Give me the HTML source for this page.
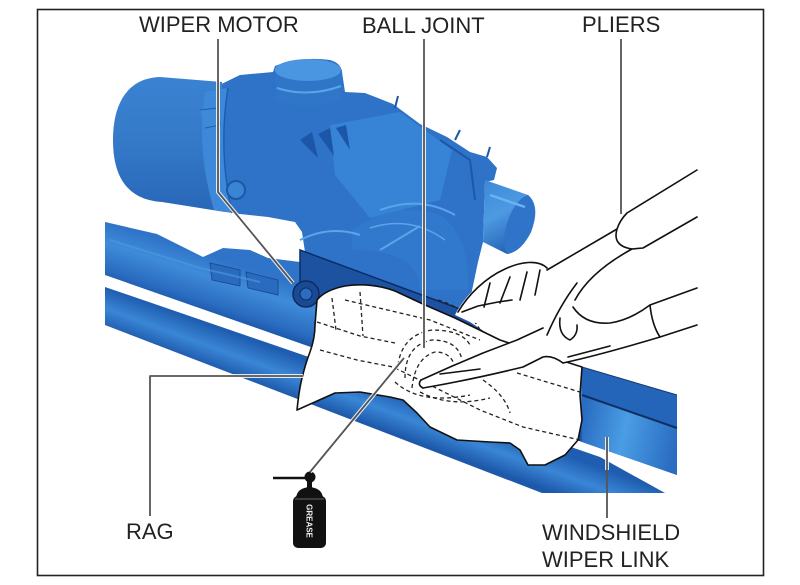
<!DOCTYPE html>
<html><head><meta charset="utf-8"><style>
html,body{margin:0;padding:0;background:#fff;}
svg{display:block;}
text{font-family:"Liberation Sans",Arial,sans-serif;}
</style></head><body>
<svg width="800" height="585" viewBox="0 0 800 585" xmlns="http://www.w3.org/2000/svg">
<defs>
<linearGradient id="gUp" gradientUnits="userSpaceOnUse" x1="0" y1="0" x2="0" y2="56" gradientTransform="translate(105,222) rotate(18)">
<stop offset="0" stop-color="#2f74c8"/><stop offset="0.35" stop-color="#3f8bd9"/><stop offset="0.8" stop-color="#2a6cc0"/><stop offset="1" stop-color="#1c56a8"/>
</linearGradient>
<linearGradient id="gLo" gradientUnits="userSpaceOnUse" x1="0" y1="0" x2="0" y2="40" gradientTransform="translate(105,287) rotate(20)">
<stop offset="0" stop-color="#1f5db0"/><stop offset="0.5" stop-color="#3a86d6"/><stop offset="1" stop-color="#1d58aa"/>
</linearGradient>
<linearGradient id="gMot" x1="0" y1="0" x2="0" y2="1">
<stop offset="0" stop-color="#3a83d2"/><stop offset="0.5" stop-color="#3479c8"/><stop offset="1" stop-color="#2866b8"/>
</linearGradient>
<linearGradient id="gBlk" gradientUnits="userSpaceOnUse" x1="582" y1="420" x2="677" y2="440">
<stop offset="0" stop-color="#2a6cc2"/><stop offset="0.45" stop-color="#4a9de4"/><stop offset="1" stop-color="#2a6cc2"/>
</linearGradient>
<linearGradient id="gCon" x1="0" y1="0" x2="0.4" y2="1">
<stop offset="0" stop-color="#3c88d8"/><stop offset="0.5" stop-color="#4d9ae2"/><stop offset="1" stop-color="#2463b6"/>
</linearGradient>
</defs>

<!-- frame -->
<rect x="37.5" y="9.5" width="726" height="566" fill="#fff" stroke="#222" stroke-width="1.6"/>

<!-- lower bar -->
<path d="M105,287 L600,457 L665,493 L542,493 L105,325 Z" fill="url(#gLo)"/>
<!-- upper bar -->
<path d="M105,222 L157,234 L203,257 L223,248 L250,250 L268,258 L300,262 L582,367 L677,395 L677,475 L582,442 L105,275 Z" fill="url(#gUp)"/>
<!-- right block detail -->
<path d="M582,395 L677,428 L677,475 L582,442 Z" fill="url(#gBlk)"/>
<path d="M582,367 L677,395 L677,428 L582,395 Z" fill="#2465b9"/>
<path d="M582,395 L677,428" stroke="#0f2f60" stroke-width="2"/>
<path d="M582,367 L677,395" stroke="#123a75" stroke-width="1"/>
<!-- bracket details -->
<path d="M210,263 L240,270 L240,286 L212,280 Z" fill="#2a6bbf" stroke="#1a4f99" stroke-width="1"/>
<path d="M246,272 L278,280 L278,295 L248,288 Z" fill="#2a6bbf" stroke="#1a4f99" stroke-width="1"/>
<path d="M110,240 L200,268 L260,282" fill="none" stroke="#4d9be0" stroke-width="2" opacity="0.6"/>

<!-- housing -->
<path d="M205,92 L240,75 L273,72 L275,66 Q300,56 330,60 Q341,63 342,72 L345,92 L365,93 L393,104 L420,124 L447,137 L470,152 L487,157 L497,168 L494,180 L485,182 L483,242 L478,262 L470,300 L468,312 L305,252 L302,232 L295,222 L268,217 L240,214 L218,210 Z" fill="#2e73c7"/>
<!-- housing facets -->
<path d="M330,125 L400,112 L452,150 L440,200 L370,218 L335,175 Z" fill="#3784d6"/>
<path d="M352,230 Q395,200 440,215 Q470,235 468,290 L420,290 Q420,250 352,250 Z" fill="#3179cc"/>
<path d="M300,140 L312,132 L318,158 Z M318,134 L330,128 L334,156 Z M336,128 L346,125 L350,150 Z" fill="#1c56a8"/>
<path d="M380,210 Q420,195 455,215" fill="none" stroke="#5aa5ea" stroke-width="2"/>
<path d="M370,228 Q410,215 445,240" fill="none" stroke="#5aa5ea" stroke-width="1.5"/>
<path d="M380,250 L420,226" fill="none" stroke="#5aa5ea" stroke-width="2"/>
<path d="M440,140 L470,160 L475,200" fill="none" stroke="#1d58a8" stroke-width="2"/>
<path d="M395,108 L398,96 M455,140 L460,130 M487,157 L490,147" stroke="#1d58a8" stroke-width="2"/>
<path d="M300,240 Q330,225 360,235" fill="none" stroke="#5aa5ea" stroke-width="2"/>
<!-- cap -->
<path d="M275,68 L276,100 Q305,112 340,100 L342,70 Z" fill="#2f76c9"/>
<ellipse cx="308" cy="70" rx="33" ry="11" fill="#4b96e0"/>
<path d="M277,88 Q308,98 341,86" fill="none" stroke="#5aa5ea" stroke-width="2"/>
<!-- connector -->
<path d="M485,180 L528,195 Q541,206 531,232 Q521,252 507,254 L483,242 Z" fill="url(#gCon)"/>
<path d="M528,195 Q540,205 531,232 Q521,252 507,254 Q500,240 510,215 Q518,198 528,195 Z" fill="#2f74c8"/>
<path d="M490,195 L525,207" stroke="#6cb2ee" stroke-width="2.5"/>

<!-- motor cylinder -->
<path d="M222,82 L160,77 C130,78 113,100 113,140 C113,180 130,200 162,202 L225,212 Z" fill="url(#gMot)"/>
<path d="M205,92 Q196,150 214,210 L232,213 Q218,150 228,88 Z" fill="#3d88d8"/>
<path d="M228,88 Q218,150 232,213" fill="none" stroke="#1f5cae" stroke-width="1.5"/>
<circle cx="236" cy="190" r="9" fill="#3a84d4" stroke="#1d58a8" stroke-width="2"/>
<path d="M200,110 L218,108 L220,125 L205,128" fill="#3e8ad8" stroke="#1f5cae" stroke-width="1"/>

<!-- plate -->
<path d="M300,250 L468,312 L500,326 L498,338 L470,328 L420,306 L390,292 L365,285 L340,288 L318,300 L300,290 Z" fill="#1d52a0" stroke="#0c2c62" stroke-width="1.5"/>
<path d="M484,320 L500,326 L498,338 L482,332 Z" fill="#3f8ee0" stroke="#0c2c62" stroke-width="1"/>
<circle cx="306" cy="294" r="13" fill="#1a4a94" stroke="#0c2c62" stroke-width="1.5"/>
<circle cx="306" cy="294" r="6" fill="#2c6cc0" stroke="#0c2c62" stroke-width="1"/>

<!-- white cover between hand and block -->
<path d="M470,322 L540,322 L605,330 L582,367 L500,342 Z" fill="#fff"/>

<!-- rag -->
<path d="M317,300 Q325,290 345,286 Q370,282 395,291 L425,305 L455,318 L500,340 L560,360 L582,367 L580,395 L582,420 L578,440 L565,455 L545,465 L528,465 L520,450 L510,443 L490,442 L457,440 L430,427 L417,413 L403,400 L390,397 L360,392 L335,393 L297,410 Q299,390 302,378 Q306,362 310,352 Q315,338 315,325 Z" fill="#fff" stroke="#111" stroke-width="1.6" stroke-linejoin="round"/>
<!-- dashed hidden lines -->
<g fill="none" stroke="#222" stroke-width="1.3" stroke-dasharray="4 3">
<path d="M317,322 L360,336 L395,343"/>
<path d="M320,350 L357,360 L393,367 L440,390 L480,410 L523,427 L580,440"/>
<path d="M345,300 L430,320 L480,340"/>
<path d="M517,373 L580,392"/>
<path d="M332,298 L336,330 M360,292 L363,336"/>
<path d="M398,365 Q402,335 432,330 Q462,330 470,345"/>
<path d="M405,378 Q405,345 432,340 Q458,340 462,360"/>
<path d="M412,388 Q415,358 435,352 Q452,352 455,368"/>
<path d="M395,382 Q420,405 470,395"/>
<path d="M420,392 Q450,408 490,398"/>
<path d="M483,380 Q505,395 510,413"/>
<path d="M438,300 Q470,310 480,330"/>
</g>

<!-- hand -->
<path d="M455,315 C465,295 485,277 505,268 C520,262 538,259 547,268 L575,300 C580,315 595,325 612,323 L650,305 L660,337 L563,363 L543,357 L523,367 L473,377 L423,387 Q417,384 421,378 L450,366 L483,353 L517,340 L543,328 L520,330 L490,325 L470,322 Z" fill="#fff"/>
<g fill="none" stroke="#111" stroke-width="1.6" stroke-linecap="round" stroke-linejoin="round">
<path d="M458,312 C468,295 485,278 505,269 C520,262 538,259 547,268"/>
<path d="M421,380 L450,367 L483,353 L517,340 L543,328"/>
<path d="M423,388 Q470,380 523,367 L543,357 Q552,355 563,363"/>
<path d="M421,380 Q417,385 423,388"/>
<path d="M577,283 Q560,305 547,335"/>
<path d="M560,318 Q558,335 570,340 Q578,335 577,325"/>
<path d="M490,283 L484,307 M510,277 L500,303 M527,272 L520,300 M540,270 L535,295"/>
<path d="M462,312 L478,306 L498,302 L512,300"/>
<path d="M440,374 L480,369"/>
<path d="M568,357 L610,346"/>
<!-- upper handle -->
<path d="M547,270 L617,229 Q620,220 627,213 L697,170"/>
<path d="M617,229 Q612,246 632,249 L643,248 L697,217"/>
<path d="M575,300 Q590,272 632,249"/>
<!-- lower handle -->
<path d="M573,307 Q585,325 610,323 Q630,320 650,305 L697,288"/>
<path d="M650,305 Q652,325 660,337 L697,325"/>
<path d="M563,363 Q600,355 660,337"/>
</g>

<!-- grease can -->
<line x1="273" y1="478" x2="305" y2="478" stroke="#111" stroke-width="2.5"/>
<rect x="307" y="480" width="5" height="9" fill="#111"/>
<circle cx="310" cy="477" r="5.5" fill="#111"/>
<path d="M296,498 Q297,488 309.5,487 Q322,488 323,498 Z" fill="#111"/>
<rect x="293" y="496" width="33" height="52" rx="5" fill="#111"/>
<line x1="295" y1="499" x2="324" y2="499" stroke="#666" stroke-width="1"/>
<text x="0" y="0" transform="translate(306.5,521) rotate(90)" font-size="8" fill="#eee" text-anchor="middle" font-weight="bold">GREASE</text>

<!-- leader lines -->
<g fill="none" stroke-linejoin="round">
<g stroke="#fff" stroke-width="4" opacity="0.85">
<path d="M218,80 L218,192 L293,283"/>
<path d="M424,60 L424,348"/>
<path d="M607,437 L607,470"/>
<path d="M150,376 L303,376"/>
<path d="M310,472 L404,358"/>
</g>
<g stroke="#555" stroke-width="1.8">
<path d="M218,39 L218,192 L293,283"/>
<path d="M424,39 L424,348"/>
<path d="M621,39 L621,214"/>
<path d="M150,516 L150,376 L303,376"/>
<path d="M310,472 L404,358"/>
<path d="M607,437 L607,518"/>
</g>
</g>

<!-- labels -->
<g font-size="22" fill="#222">
<text x="139" y="32">WIPER MOTOR</text>
<text x="362" y="33">BALL JOINT</text>
<text x="582" y="32">PLIERS</text>
<text x="126" y="539">RAG</text>
<text x="542" y="540">WINDSHIELD</text>
<text x="542" y="567">WIPER LINK</text>
</g>
</svg>
</body></html>
